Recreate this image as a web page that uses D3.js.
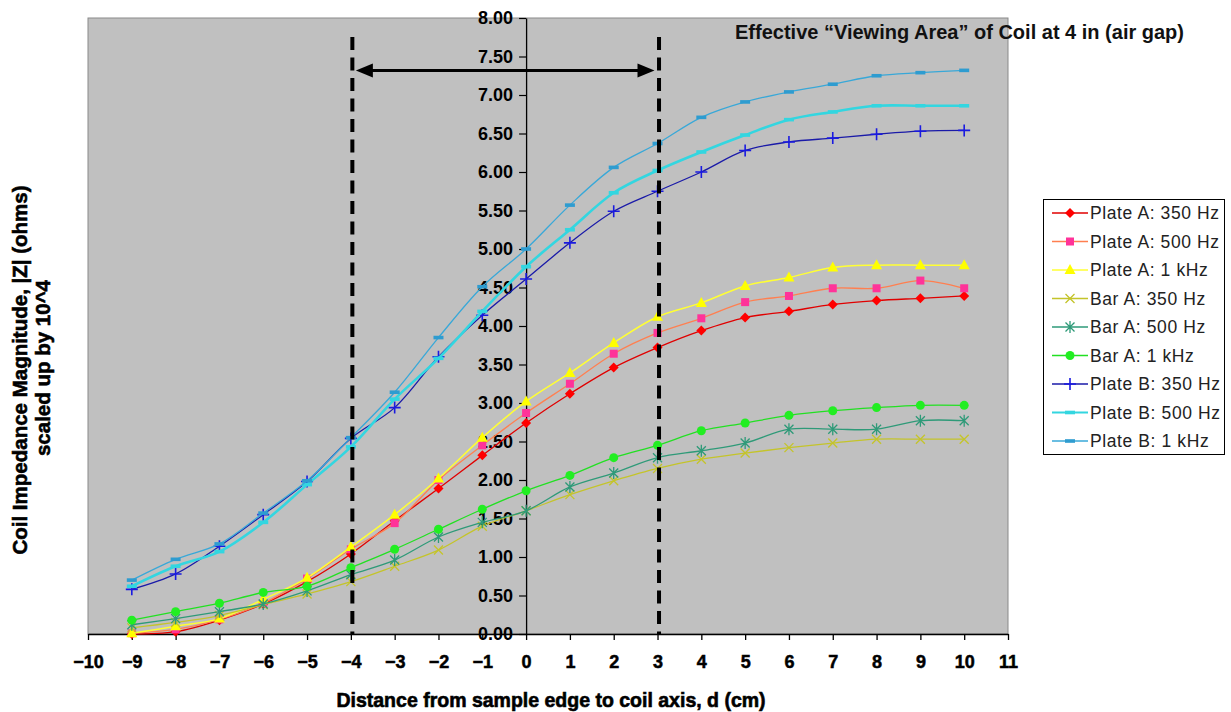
<!DOCTYPE html>
<html><head><meta charset="utf-8">
<script src="https://cdn.jsdelivr.net/npm/d3@7"></script>
<style>
body{margin:0;background:#fff;}
svg{display:block;font-family:Arial,"Liberation Sans",sans-serif;}
</style></head>
<body><svg id="c" width="1231" height="712"></svg>
<script>
const distances = [-9,-8,-7,-6,-5,-4,-3,-2,-1,0,1,2,3,4,5,6,7,8,9,10];
const seriesNames = ["Plate A: 350 Hz","Plate A: 500 Hz","Plate A: 1 kHz","Bar A: 350 Hz","Bar A: 500 Hz","Bar A: 1 kHz","Plate B: 350 Hz","Plate B: 500 Hz","Plate B: 1 kHz"];
const plateA350 = [0.00,0.03,0.18,0.39,0.68,1.04,1.47,1.89,2.32,2.74,3.12,3.46,3.72,3.94,4.11,4.19,4.28,4.33,4.36,4.39];
const plateA500 = [0.01,0.06,0.19,0.40,0.72,1.10,1.44,2.00,2.45,2.87,3.25,3.64,3.91,4.10,4.31,4.39,4.49,4.49,4.59,4.49];
const plateA1k  = [0.01,0.10,0.20,0.45,0.73,1.13,1.55,2.02,2.55,3.02,3.39,3.78,4.12,4.30,4.52,4.63,4.76,4.79,4.79,4.79];
const barA350   = [0.08,0.15,0.24,0.38,0.52,0.68,0.88,1.09,1.40,1.60,1.81,1.99,2.15,2.27,2.35,2.42,2.48,2.53,2.53,2.53];
const barA500   = [0.12,0.20,0.29,0.39,0.56,0.77,0.96,1.26,1.45,1.60,1.91,2.09,2.29,2.38,2.48,2.66,2.66,2.66,2.77,2.77];
const barA1k    = [0.18,0.29,0.40,0.54,0.62,0.86,1.10,1.36,1.62,1.86,2.06,2.29,2.45,2.64,2.74,2.84,2.90,2.94,2.97,2.97];
const plateB350 = [0.58,0.78,1.14,1.55,1.98,2.54,2.94,3.60,4.14,4.61,5.08,5.49,5.75,6.00,6.28,6.39,6.44,6.49,6.53,6.54];
const plateB500 = [0.62,0.88,1.07,1.45,1.94,2.43,3.05,3.58,4.19,4.77,5.25,5.73,6.02,6.26,6.48,6.68,6.78,6.86,6.86,6.86];
const plateB1k  = [0.70,0.97,1.17,1.57,1.99,2.55,3.14,3.85,4.51,5.00,5.57,6.06,6.37,6.71,6.91,7.04,7.14,7.25,7.29,7.32];
const xTicks = d3.range(-10, 12, 1);
const yTicks = d3.range(0, 8.01, 0.5);
const viewingRange = [-4, 3];
const titleText = "Effective \u201cViewing Area\u201d of Coil at 4 in (air gap)";
const xTitle = "Distance from sample edge to coil axis, d (cm)";
const yTitle1 = "Coil Impedance Magnitude, |Z| (ohms)";
const yTitle2 = "scaled up by 10^4";

const styles = [
  {line:"#E00000", fill:"#FF0000", sym:"diamond", w:1.3},
  {line:"#FF7F50", fill:"#FF3399", sym:"square", w:1.3},
  {line:"#FFFF33", fill:"#FFFF00", sym:"triangle", w:1.5},
  {line:"#C4C42A", fill:"#C4C42A", sym:"x", w:1.3},
  {line:"#2E9A78", fill:"#2E9A78", sym:"star", w:1.3},
  {line:"#22E022", fill:"#22EE22", sym:"circle", w:1.3},
  {line:"#1A1AA8", fill:"#1A1AE0", sym:"plus", w:1.3},
  {line:"#33D6E0", fill:"#33D6E0", sym:"dash", w:2.6},
  {line:"#38A8D8", fill:"#2E9CD0", sym:"dash", w:1.3}
];
const allSeries = [plateA350,plateA500,plateA1k,barA350,barA500,barA1k,plateB350,plateB500,plateB1k];

const svg = d3.select("#c");
const L=88,R=1008,T=18,B=634;
const x = d3.scaleLinear().domain([-10,11]).range([L,R]);
const y = d3.scaleLinear().domain([0,8]).range([B,T]);

svg.append("rect").attr("x",L).attr("y",T).attr("width",R-L).attr("height",B-T)
  .attr("fill","#C0C0C0").attr("stroke","#8a8a8a").attr("stroke-width",1);

// x axis
const xAxis = svg.append("g").attr("transform",`translate(0,${B})`)
  .call(d3.axisBottom(x).tickValues(xTicks).tickFormat(d3.format("d")).tickSize(6).tickPadding(15).tickSizeOuter(0));
xAxis.select(".domain").attr("stroke","#000").attr("stroke-width",1.5);
xAxis.selectAll("line").attr("stroke","#000").attr("stroke-width",1.3);
xAxis.selectAll("text").attr("font-size",18).attr("font-weight","bold").attr("fill","#000")
  .attr("stroke","#000").attr("stroke-width",0.5)
  .attr("font-family","Arial,'Liberation Sans',sans-serif");

// y axis at x=0
const yAxis = svg.append("g").attr("transform",`translate(${x(0)},0)`)
  .call(d3.axisLeft(y).tickValues(yTicks).tickFormat(d3.format(".2f")).tickSize(7).tickPadding(6).tickSizeOuter(0));
yAxis.select(".domain").attr("stroke","#000").attr("stroke-width",1.3);
yAxis.selectAll("line").attr("stroke","#000").attr("stroke-width",1.2);
yAxis.selectAll("text").attr("font-size",18).attr("font-weight","bold").attr("fill","#000")
  .attr("font-family","Arial,'Liberation Sans',sans-serif");

// series
const line = d3.line().x((d,i)=>x(distances[i])).y(d=>y(d)).curve(d3.curveCatmullRom.alpha(0.5));
function marker(g, sym, st, cx, cy){
  const s = g.append("g").attr("transform",`translate(${cx},${cy})`);
  if(sym==="diamond") s.append("path").attr("d","M0,-5L5,0L0,5L-5,0Z").attr("fill",st.fill);
  else if(sym==="square") s.append("rect").attr("x",-4).attr("y",-4).attr("width",8).attr("height",8).attr("fill",st.fill);
  else if(sym==="triangle") s.append("path").attr("d","M0,-6L5.5,4L-5.5,4Z").attr("fill",st.fill);
  else if(sym==="circle") s.append("circle").attr("r",4.5).attr("fill",st.fill);
  else if(sym==="x") s.append("path").attr("d","M-4.5,-4.5L4.5,4.5M-4.5,4.5L4.5,-4.5").attr("stroke",st.fill).attr("stroke-width",1.3);
  else if(sym==="star") s.append("path").attr("d","M-4.5,-4.5L4.5,4.5M-4.5,4.5L4.5,-4.5M0,-6L0,6").attr("stroke",st.fill).attr("stroke-width",1.3);
  else if(sym==="plus") s.append("path").attr("d","M-6,0L6,0M0,-6L0,6").attr("stroke",st.fill).attr("stroke-width",1.6);
  else if(sym==="dash") s.append("rect").attr("x",-5).attr("y",-1.8).attr("width",10).attr("height",3.6).attr("fill",st.fill);
}
allSeries.forEach((vals,k)=>{
  const st = styles[k];
  const g = svg.append("g");
  g.append("path").attr("d",line(vals)).attr("fill","none").attr("stroke",st.line).attr("stroke-width",st.w);
  vals.forEach((v,i)=>marker(g, st.sym, st, x(distances[i]), y(v)));
});

// dashed viewing lines
viewingRange.forEach(v=>{
  svg.append("line").attr("x1",x(v)+1.5).attr("x2",x(v)+1.5).attr("y1",37).attr("y2",B)
    .attr("stroke","#000").attr("stroke-width",4).attr("stroke-dasharray","13,7.5");
});
// double arrow
const ay = 70.5;
const ax1 = x(viewingRange[0])+5, ax2 = x(viewingRange[1])-3;
svg.append("line").attr("x1",ax1+14).attr("x2",ax2-14).attr("y1",ay).attr("y2",ay).attr("stroke","#000").attr("stroke-width",3);
svg.append("path").attr("d",`M${ax1},${ay}L${ax1+17},${ay-7}L${ax1+17},${ay+7}Z`).attr("fill","#000");
svg.append("path").attr("d",`M${ax2},${ay}L${ax2-17},${ay-7}L${ax2-17},${ay+7}Z`).attr("fill","#000");

// title
svg.append("text").attr("x",1184).attr("y",39).attr("text-anchor","end")
  .attr("font-size",20).attr("font-weight","bold").attr("fill","#111").text(titleText);

// axis titles
svg.append("text").attr("x",551).attr("y",707).attr("text-anchor","middle")
  .attr("font-size",19.5).attr("font-weight","bold").attr("fill","#000")
  .attr("stroke","#000").attr("stroke-width",0.6).text(xTitle);
svg.append("text").attr("transform","translate(27,370) rotate(-90)").attr("text-anchor","middle")
  .attr("font-size",20.5).attr("font-weight","bold").attr("fill","#000")
  .attr("stroke","#000").attr("stroke-width",0.6).text(yTitle1);
svg.append("text").attr("transform","translate(50,368) rotate(-90)").attr("text-anchor","middle")
  .attr("font-size",20.5).attr("font-weight","bold").attr("fill","#000")
  .attr("stroke","#000").attr("stroke-width",0.6).text(yTitle2);

// legend
const lg = svg.append("g");
lg.append("rect").attr("x",1043.5).attr("y",199.5).attr("width",181).attr("height",255)
  .attr("fill","#fff").attr("stroke","#000").attr("stroke-width",1);
seriesNames.forEach((n,k)=>{
  const cy = 213 + k*28.5;
  const st = styles[k];
  lg.append("line").attr("x1",1052).attr("x2",1088).attr("y1",cy).attr("y2",cy).attr("stroke",st.line).attr("stroke-width",Math.min(st.w,2));
  marker(lg, st.sym, st, 1070, cy);
  lg.append("text").attr("x",1090).attr("y",cy+6).attr("font-size",17.5).attr("letter-spacing",0.6)
    .attr("fill","#222").text(n);
});
</script></body></html>
